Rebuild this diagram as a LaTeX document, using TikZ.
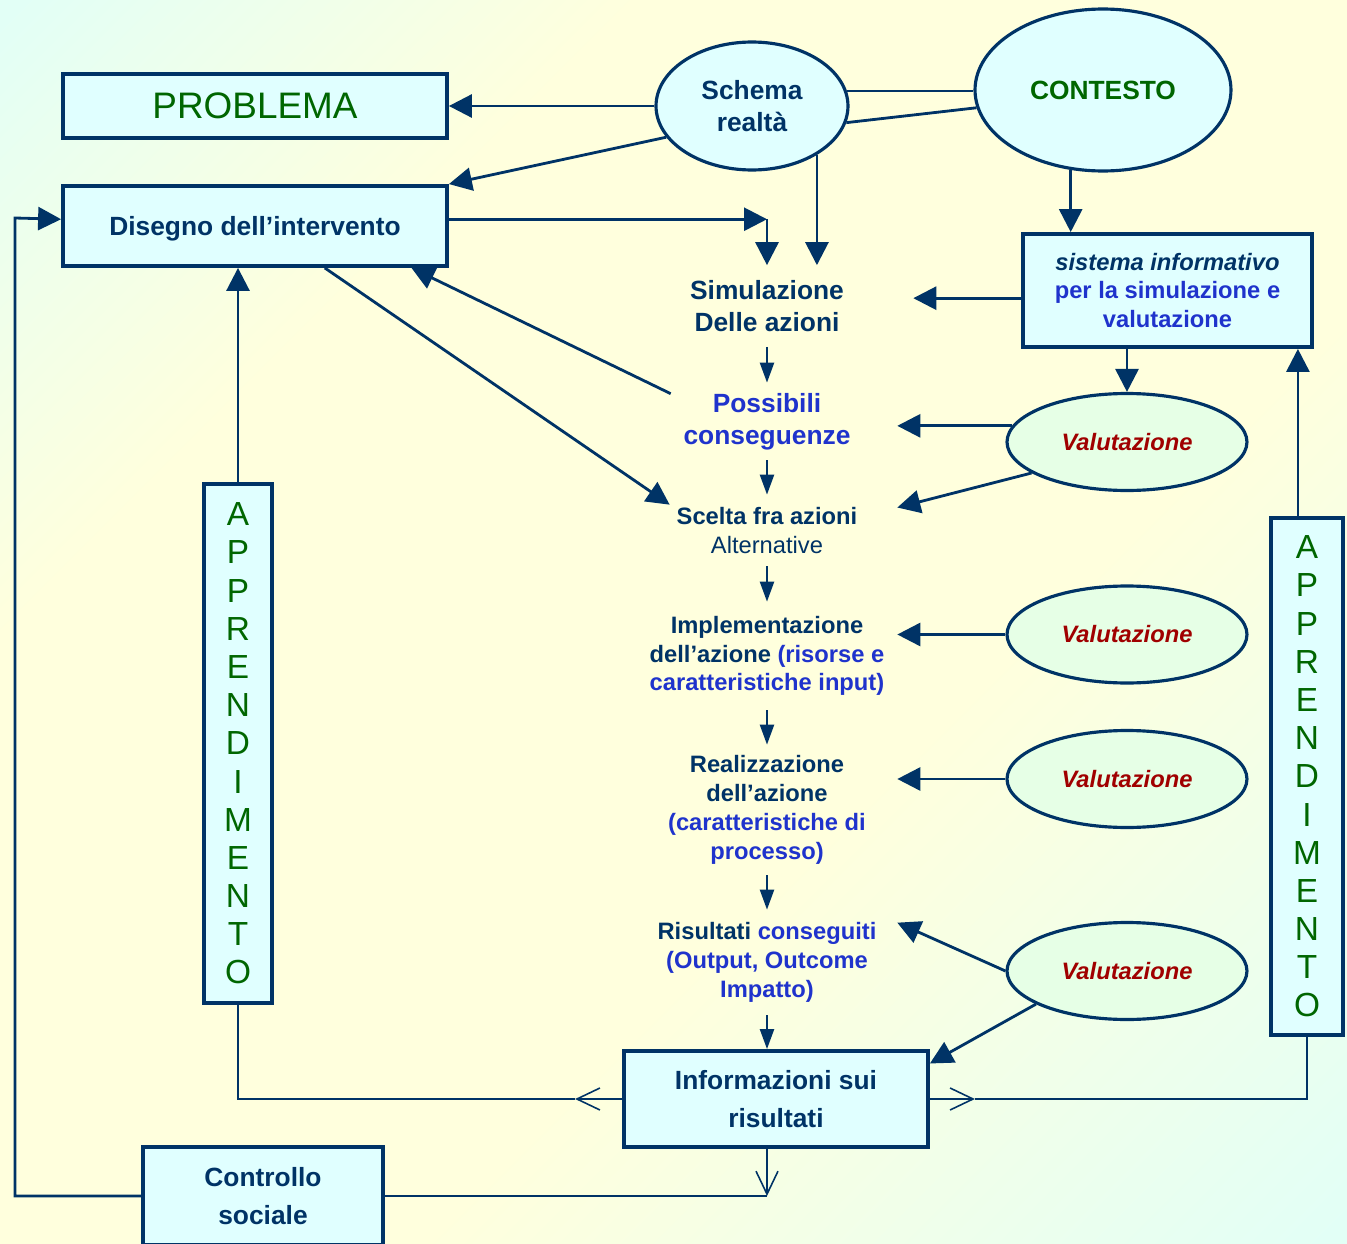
\documentclass[tikz,border=0pt]{standalone}
\usepackage{fontspec}
\setmainfont{Liberation Sans}
\usetikzlibrary{shapes.geometric, arrows.meta, calc}

\definecolor{darknavy}{HTML}{003366}
\definecolor{textblue}{HTML}{1F33CC}
\definecolor{textgreen}{HTML}{006600}
\definecolor{textred}{HTML}{A00000}
\definecolor{boxfill}{HTML}{E0FFFF}
\definecolor{valfill}{HTML}{E6FFE6}
\definecolor{bgcyan}{HTML}{E2FFF6}
\definecolor{bgyellow}{HTML}{FFFFDD}
\pgfdeclarehorizontalshading{bgshade}{100bp}{color(0bp)=(bgcyan); color(15bp)=(bgcyan); color(32bp)=(bgyellow); color(60bp)=(bgyellow); color(85bp)=(bgcyan); color(100bp)=(bgcyan)}

\newcommand{\mainsize}{\fontsize{15pt}{18.1pt}\selectfont}
\newcommand{\smallsize}{\fontsize{13.5pt}{16.4pt}\selectfont}
\newcommand{\widesize}{\fontsize{15pt}{21.5pt}\selectfont}

\begin{document}
\begin{tikzpicture}[x=0.02cm, y=-0.02cm]
    \tikzset{boxnode/.style={draw=darknavy, line width=2.2pt, fill=boxfill, inner sep=0pt},
      ovalnode/.style={ellipse, draw=darknavy, line width=1.8pt, fill=boxfill, inner sep=0pt},
      valnode/.style={ovalnode, fill=valfill, minimum width=4.8cm, minimum height=1.94cm, font=\smallsize\bfseries\itshape, text=textred},
      stage/.style={inner sep=0pt, align=center, text=darknavy, minimum width=5.2cm},
      learnbox/.style={boxnode, align=center, text=textgreen, font=\fontsize{19pt}{21.73pt}\selectfont},
      link/.style={color=darknavy, line width=1.6pt},
      bigarrow/.style={link, ->, > = {Triangle[length=0.46cm, width=0.46cm]}},
      smallarrow/.style={color=darknavy, line width=1.3pt, ->, > = {Triangle[length=0.4cm, width=0.28cm]}},
      openarrow/.style={link, ->, > = {Straight Barb[length=0.46cm, width=0.44cm, line width=0.9pt]}}}

    \useasboundingbox (0,0) rectangle (1347,1244);
    \shade[shading=bgshade, shading angle=-45] (0,0) rectangle (1347,1244);

    \node[boxnode, minimum width=7.68cm, minimum height=1.28cm, text=textgreen, text depth=0pt, font=\fontsize{21pt}{25pt}\selectfont] at (255,106) (problema) {PROBLEMA};
    \node[boxnode, minimum width=7.68cm, minimum height=1.6cm, text=darknavy, text depth=0pt, font=\mainsize\bfseries] at (255,226) (disegno) {Disegno dell’intervento};
    \node[ovalnode, minimum width=3.84cm, minimum height=2.56cm, text=darknavy, font=\mainsize\bfseries, align=center] at (752,106) (schema) {Schema\\realtà};
    \node[ovalnode, minimum width=5.12cm, minimum height=3.24cm, text=textgreen, font=\mainsize\bfseries] at (1103,90) (contesto) {CONTESTO};
    \node[boxnode, minimum width=5.78cm, minimum height=2.26cm, text=textblue, font=\smallsize\bfseries, align=center] at (1167.5,290.5) (sistema) {{\color{darknavy}\itshape sistema informativo}\\per la simulazione e\\valutazione};

    \node[stage, minimum width=5.84cm, minimum height=1.62cm, font=\mainsize\bfseries] at (767,306) (simul) {Simulazione\\Delle azioni};
    \node[stage, minimum height=1.54cm, font=\mainsize\bfseries, text=textblue] at (767,421.5) (poss) {Possibili\\conseguenze};
    \node[stage, minimum height=1.42cm, font=\smallsize\bfseries] at (767,530.5) (scelta) {Scelta fra azioni\\{\mdseries Alternative}};
    \node[stage, minimum height=2.16cm, font=\smallsize\bfseries] at (767,656) (impl) {Implementazione\\dell’azione {\color{textblue}(risorse e}\\{\color{textblue}caratteristiche input)}};
    \node[stage, minimum height=2.6cm, font=\smallsize\bfseries] at (767,810) (real) {Realizzazione\\dell’azione\\{\color{textblue}(caratteristiche di}\\{\color{textblue}processo)}};
    \node[stage, minimum height=2.1cm, font=\smallsize\bfseries] at (767,962.5) (risult) {Risultati {\color{textblue}conseguiti}\\{\color{textblue}(Output, Outcome}\\{\color{textblue}Impatto)}};

    \node[valnode] at (1127,442) (val1) {Valutazione};
    \node[valnode] at (1127,634.5) (val2) {Valutazione};
    \node[valnode] at (1127,779) (val3) {Valutazione};
    \node[valnode] at (1127,971) (val4) {Valutazione};

    \node[learnbox, minimum width=1.36cm, minimum height=10.38cm] at (238,743.5) (learnL) {A\\P\\P\\R\\E\\N\\D\\I\\M\\E\\N\\T\\O};
    \node[learnbox, minimum width=1.44cm, minimum height=10.34cm] at (1307,776.5) (learnR) {A\\P\\P\\R\\E\\N\\D\\I\\M\\E\\N\\T\\O};

    \node[boxnode, minimum width=6.08cm, minimum height=1.92cm, text=darknavy, font=\widesize\bfseries, align=center] at (776,1099) (info) {Informazioni sui\\risultati};
    \node[boxnode, minimum width=4.8cm, minimum height=1.96cm, text=darknavy, font=\widesize\bfseries, align=center] at (263,1196) (ctrl) {Controllo\\sociale};

    \coordinate (edgeL) at (15,218);
    \coordinate (tipL) at ($(info.west)+(-47,0)$);
    \coordinate (tipR) at ($(info.east)+(45,0)$);
    \coordinate (tipD) at (risult.south |- ctrl.east);

    % top part
    \path[bigarrow] (schema.west) edge (problema.east);
    \path[bigarrow] (schema.200) edge (disegno.north east);
    \path[bigarrow] (schema.-37) edge (schema.-37 |- simul.north);
    \path[bigarrow] (disegno.2) edge (disegno.2 -| simul.north);
    \path[bigarrow] (disegno.2 -| simul.north) edge (simul.north);
    \path[link] (schema.9) edge (schema.9 -| contesto.west);
    \path[link] (schema.-10) edge (contesto.188);
    \path[bigarrow] (contesto.-112) edge (contesto.-112 |- sistema.north);
    \path[bigarrow] (sistema.183) edge (sistema.183 -| simul.east);
    \path[bigarrow] (val1.north |- sistema.south) edge (val1.north);
    \path[bigarrow] (learnR.92) edge (learnR.92 |- sistema.south);
    \path[bigarrow] (learnL.north) edge (learnL.north |- disegno.south);
    \path[bigarrow] ($(poss.north west)+(34,11)$) edge (disegno.-15);
    \path[bigarrow] (disegno.-31) edge ($(scelta.north west)+(33,10)$);

    % central column
    \path[smallarrow] (simul.south) edge (poss.north);
    \path[smallarrow] (poss.south) edge (scelta.north);
    \path[smallarrow] (scelta.south) edge (impl.north);
    \path[smallarrow] (impl.south) edge (real.north);
    \path[smallarrow] (real.south) edge (risult.north);
    \path[smallarrow] (risult.south) edge (risult.south |- info.north);

    % valutazione
    \path[bigarrow] (val1.172) edge (val1.172 -| poss.east);
    \path[bigarrow] (val1.198) edge (scelta.10);
    \path[bigarrow] (val2.west) edge (val2.west -| impl.east);
    \path[bigarrow] (val3.west) edge (val3.west -| real.east);
    \path[bigarrow] (val4.west) edge (risult.17);
    \path[bigarrow] (val4.200) edge (info.13);

    % feedback
    \draw[openarrow] (info.west) -- (tipL);
    \draw[link] (tipL) -| (learnL.south);
    \draw[openarrow] (info.east) -- (tipR);
    \draw[link] (tipR) -| (learnR.south);
    \draw[openarrow] (risult.south |- info.south) -- (tipD);
    \draw[link] (ctrl.east) -- (tipD);
    \draw[bigarrow] (ctrl.west) -| (edgeL) -- (disegno.178);
\end{tikzpicture}
\end{document}
